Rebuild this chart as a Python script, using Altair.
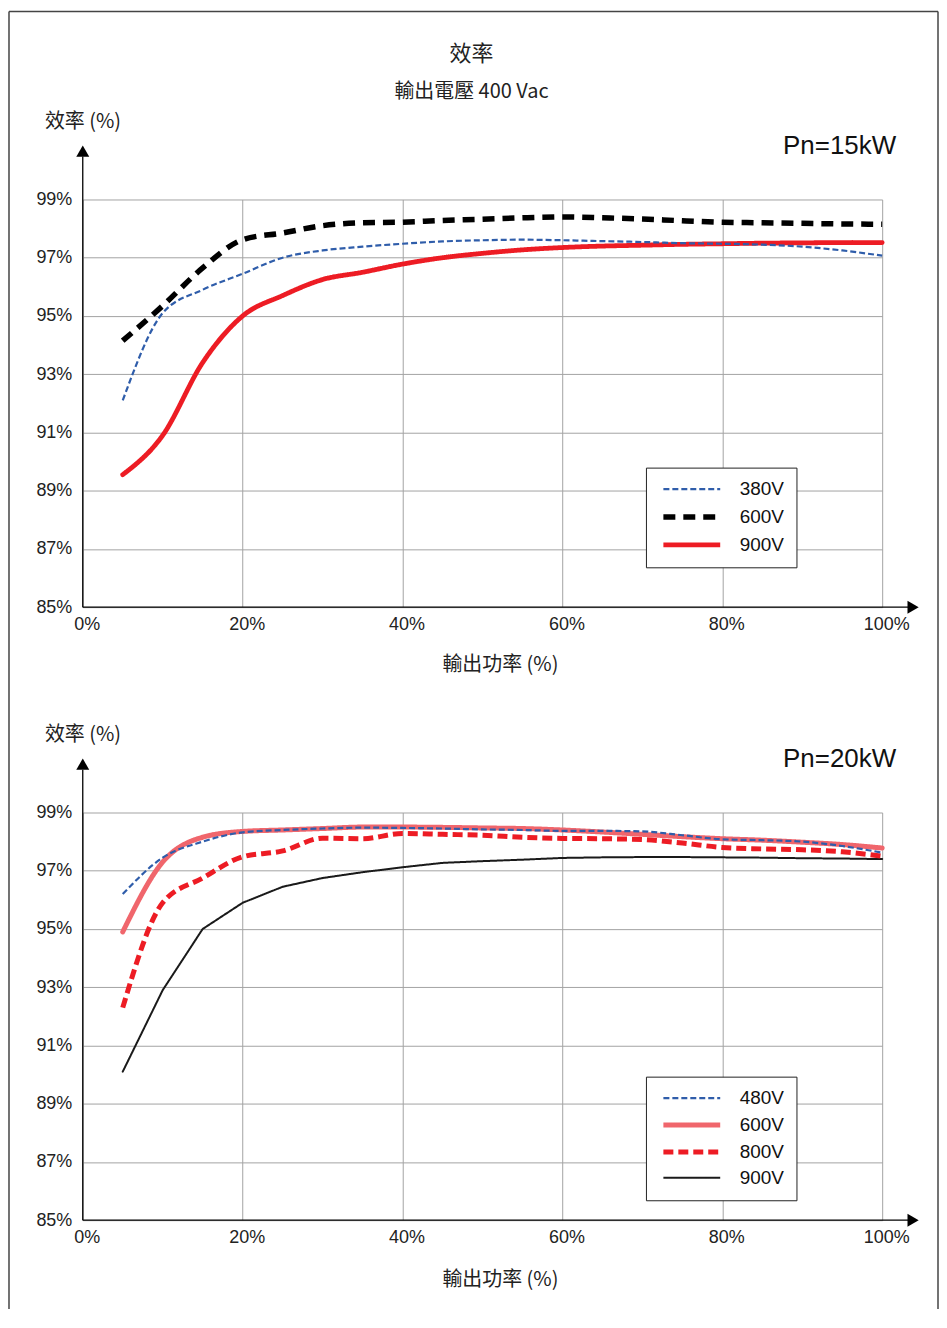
import altair as alt
import pandas as pd

# ---------------- data ----------------
load_pct = [5, 10, 15, 20, 25, 30, 35, 40, 45, 50, 55, 60, 65, 70, 75, 80, 85, 90, 95, 100]

top_series = ["380V", "600V", "900V"]
top_380 = [92.1, 95.1, 95.9, 96.45, 97.0, 97.25, 97.38, 97.48, 97.56, 97.6,
           97.62, 97.6, 97.57, 97.54, 97.5, 97.48, 97.45, 97.38, 97.25, 97.07]
top_600 = [94.15, 95.35, 96.65, 97.62, 97.85, 98.1, 98.2, 98.22, 98.28, 98.32,
           98.37, 98.4, 98.37, 98.33, 98.27, 98.22, 98.2, 98.18, 98.16, 98.15]
top_900 = [89.55, 90.9, 93.4, 95.0, 95.7, 96.25, 96.5, 96.78, 97.0, 97.15,
           97.27, 97.35, 97.4, 97.43, 97.46, 97.48, 97.5, 97.51, 97.52, 97.52]

bot_series = ["480V", "600V", "800V", "900V"]
bot_480 = [96.2, 97.45, 98.0, 98.32, 98.4, 98.45, 98.48, 98.47, 98.45, 98.42,
           98.4, 98.37, 98.37, 98.35, 98.22, 98.08, 98.05, 98.0, 97.85, 97.62]
bot_600 = [94.9, 97.3, 98.15, 98.35, 98.4, 98.45, 98.5, 98.5, 98.49, 98.47,
           98.45, 98.4, 98.33, 98.25, 98.17, 98.1, 98.05, 97.98, 97.9, 97.78]
bot_800 = [92.3, 95.9, 96.75, 97.48, 97.68, 98.12, 98.1, 98.28, 98.25, 98.22,
           98.15, 98.11, 98.1, 98.07, 97.95, 97.8, 97.75, 97.72, 97.65, 97.5]
bot_900 = [90.1, 92.9, 95.0, 95.9, 96.45, 96.75, 96.95, 97.12, 97.27, 97.33,
           97.38, 97.44, 97.46, 97.47, 97.47, 97.46, 97.45, 97.43, 97.42, 97.4]

x_ticks = [0, 20, 40, 60, 80, 100]
y_ticks = [85, 87, 89, 91, 93, 95, 97, 99]

main_title = "效率"
sub_title = "輸出電壓 400 Vac"
y_title = "效率 (%)"
x_title = "輸出功率 (%)"

# ---------------- style ----------------
W, H = 802, 409
CJK = "Noto Sans CJK TC"
LAT = "Liberation Sans"
GRID = "#A3A3A3"


def long_df(names, values):
    rows = []
    for n, vals in zip(names, values):
        for p, v in zip(load_pct, vals):
            rows.append({"p": p, "v": v, "s": n})
    return pd.DataFrame(rows)


one = pd.DataFrame({"k": [0]})


def txt(t, x, y, size, font, align="center", color="#222"):
    return alt.Chart(pd.DataFrame({"t": [t]})).mark_text(
        align=align, baseline="middle", fontSize=size, font=font, color=color
    ).encode(x=alt.value(x), y=alt.value(y), text="t:N")


def width_expr(names, widths):
    expr = str(widths[-1])
    for n, w in reversed(list(zip(names[:-1], widths[:-1]))):
        expr = f"datum.value === '{n}' ? {w} : ({expr})"
    return expr


def panel(df, names, colors, dashes, widths, draw_order, linear, pn_text,
          legend_y, row_pad, xt_y, extra=None):
    legend = alt.Legend(
        orient="none", legendX=565, legendY=legend_y, title=None,
        symbolType="M0,0H10", symbolSize=130,
        symbolStrokeWidth={"expr": width_expr(names, widths)},
        labelFont=LAT, labelFontSize=19, labelColor="#111", labelOffset=67,
        rowPadding=row_pad, padding=12, strokeColor="#222", fillColor="white",
        symbolOffset=-4,
    )
    xaxis = alt.Axis(values=x_ticks, labelExpr="datum.value + '%'", title=None,
                     grid=True, gridColor=GRID, gridWidth=1, domain=False, ticks=False,
                     labelFont=LAT, labelFontSize=18, labelColor="#222",
                     labelPadding=8, labelFlush=False, labelOffset=4)
    yaxis = alt.Axis(values=y_ticks, labelExpr="datum.value + '%'", title=None,
                     grid=True, gridColor=GRID, gridWidth=1, domain=False, ticks=False,
                     labelFont=LAT, labelFontSize=18, labelColor="#222",
                     labelPadding=11)
    enc = dict(
        x=alt.X("p:Q", scale=alt.Scale(domain=[0, 100], nice=False, zero=False), axis=xaxis),
        y=alt.Y("v:Q", scale=alt.Scale(domain=[85, 99], nice=False, zero=False), axis=yaxis),
        color=alt.Color("s:N", scale=alt.Scale(domain=names, range=colors), legend=legend),
        strokeDash=alt.StrokeDash("s:N", scale=alt.Scale(domain=names, range=dashes), legend=legend),
    )
    wmap = dict(zip(names, widths))
    dmap = dict(zip(names, dashes))
    layers = []
    for n in draw_order:
        interp = "linear" if n in linear else "monotone"
        cap = "round" if dmap[n] == [1, 0] else "butt"
        layers.append(
            alt.Chart(df).transform_filter(alt.datum.s == n)
            .mark_line(interpolate=interp, strokeCap=cap, strokeJoin="round",
                       strokeWidth=wmap[n])
            .encode(**enc)
        )
    deco = [
        alt.Chart(one).mark_rule(color="black", strokeWidth=1.3).encode(
            x=alt.value(0), y=alt.value(H), y2=alt.value(-43)),
        alt.Chart(one).mark_rule(color="black", strokeWidth=1.3).encode(
            x=alt.value(0), x2=alt.value(829), y=alt.value(H)),
        alt.Chart(one).mark_point(shape="triangle-up", filled=True, size=169,
                                  color="black", opacity=1).encode(
            x=alt.value(0), y=alt.value(-48.5)),
        alt.Chart(one).mark_point(shape="triangle-right", filled=True, size=169,
                                  color="black", opacity=1).encode(
            x=alt.value(833), y=alt.value(H)),
        txt(y_title, -38, -78, 20, CJK, align="left"),
        txt(pn_text, 816, -54, 26, LAT, align="right", color="#111"),
        txt(x_title, 419, H + xt_y, 20, CJK),
    ]
    if extra:
        deco += extra
    return alt.layer(*layers, *deco).properties(width=W, height=H)


frame_col = "#444"
FL, FT, FR, FB = -74, -188.5, 858, 1113
frame = [
    alt.Chart(one).mark_rule(color=frame_col, strokeWidth=1.5).encode(
        x=alt.value(FL), y=alt.value(FT), y2=alt.value(FB)),
    alt.Chart(one).mark_rule(color=frame_col, strokeWidth=1.5).encode(
        x=alt.value(FL), x2=alt.value(FR), y=alt.value(FT)),
    alt.Chart(one).mark_rule(color=frame_col, strokeWidth=1.5).encode(
        x=alt.value(FR), y=alt.value(FT), y2=alt.value(FB)),
    txt(main_title, 390, -146, 22, CJK),
    txt(sub_title, 390, -108, 20, CJK),
]

top = panel(
    long_df(top_series, [top_380, top_600, top_900]),
    top_series,
    ["#2F5DAA", "#000000", "#ED1C24"],
    [[6, 3], [12, 8], [1, 0]],
    [2.2, 5.5, 4.8],
    ["900V", "600V", "380V"],
    [],
    "Pn=15kW", 269, 6, 58, extra=frame,
)

bottom = panel(
    long_df(bot_series, [bot_480, bot_600, bot_800, bot_900]),
    bot_series,
    ["#2F5DAA", "#F0666C", "#ED1C24", "#1A1A1A"],
    [[6, 3], [1, 0], [10, 5], [1, 0]],
    [2.2, 5.0, 5.0, 2.0],
    ["900V", "800V", "600V", "480V"],
    ["900V"],
    "Pn=20kW", 265, 6, 60,
)

chart = alt.vconcat(top, bottom, spacing=206, bounds="flush").resolve_scale(
    color="independent", strokeDash="independent"
).resolve_legend(
    color="independent", strokeDash="independent"
).properties(
    padding=0, background="white"
).configure_view(stroke=None)

chart.save("out.html", embed_options={"renderer": "svg", "actions": False})
